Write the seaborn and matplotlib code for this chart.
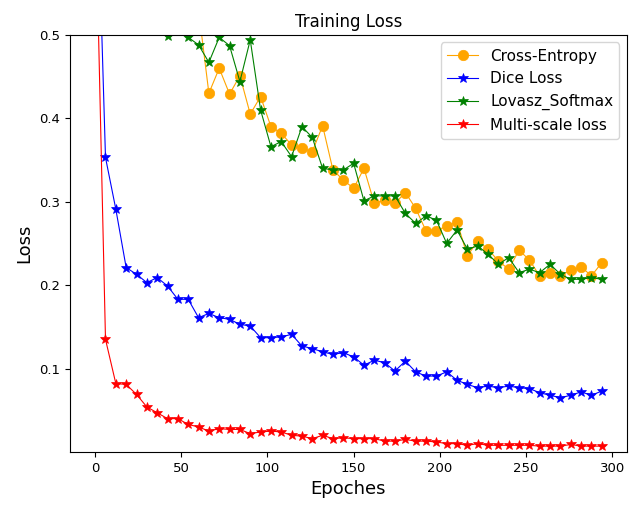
import numpy as np
import pandas as pd
import matplotlib
matplotlib.use("Agg")
import matplotlib.pyplot as plt
import seaborn as sns

# epochs sampled every 6 steps
epochs = list(range(0, 300, 6))

cross_entropy = [1.30, 0.98, 0.85, 0.77, 0.71, 0.66, 0.62, 0.60, 0.57, 0.56,
                 0.53, 0.430, 0.460, 0.429, 0.451, 0.405, 0.426, 0.390, 0.382, 0.368,
                 0.364, 0.360, 0.391, 0.338, 0.326, 0.316, 0.340, 0.298, 0.302, 0.298,
                 0.311, 0.292, 0.265, 0.265, 0.271, 0.276, 0.235, 0.253, 0.243, 0.229,
                 0.219, 0.242, 0.230, 0.211, 0.215, 0.211, 0.218, 0.222, 0.211, 0.227]

dice_loss = [0.77, 0.353, 0.291, 0.221, 0.213, 0.203, 0.209, 0.199, 0.183, 0.183,
             0.161, 0.166, 0.161, 0.159, 0.153, 0.151, 0.137, 0.137, 0.138, 0.141,
             0.127, 0.124, 0.120, 0.117, 0.119, 0.114, 0.104, 0.110, 0.107, 0.097,
             0.109, 0.096, 0.091, 0.091, 0.096, 0.086, 0.081, 0.077, 0.079, 0.077,
             0.079, 0.077, 0.076, 0.071, 0.068, 0.065, 0.068, 0.072, 0.068, 0.073]

lovasz = [1.20, 0.90, 0.78, 0.69, 0.62, 0.57, 0.53, 0.499, 0.515, 0.497,
          0.488, 0.467, 0.497, 0.487, 0.444, 0.494, 0.410, 0.366, 0.372, 0.354,
          0.390, 0.377, 0.340, 0.338, 0.338, 0.346, 0.301, 0.307, 0.307, 0.307,
          0.286, 0.274, 0.283, 0.278, 0.250, 0.266, 0.243, 0.247, 0.237, 0.225,
          0.233, 0.215, 0.219, 0.215, 0.225, 0.213, 0.207, 0.207, 0.209, 0.207]

multi_scale = [0.68, 0.135, 0.082, 0.081, 0.069, 0.054, 0.047, 0.040, 0.040, 0.033,
               0.030, 0.025, 0.028, 0.027, 0.027, 0.022, 0.024, 0.025, 0.024, 0.020,
               0.019, 0.016, 0.020, 0.016, 0.017, 0.016, 0.016, 0.016, 0.013, 0.013,
               0.015, 0.013, 0.013, 0.012, 0.010, 0.010, 0.008, 0.010, 0.008, 0.008,
               0.008, 0.008, 0.008, 0.007, 0.007, 0.007, 0.009, 0.007, 0.007, 0.007]

series = [
    ("Cross-Entropy", cross_entropy, "orange", "o", 7.5),
    ("Dice Loss", dice_loss, "blue", "*", 7.5),
    ("Lovasz_Softmax", lovasz, "green", "*", 7.5),
    ("Multi-scale loss", multi_scale, "red", "*", 7.5),
]

fig, ax = plt.subplots(figsize=(6.29, 5.05), dpi=100)
fig.subplots_adjust(left=0.111, right=0.997, bottom=0.105, top=0.931)

for name, vals, col, mk, ms in series:
    sns.lineplot(x=epochs, y=vals, ax=ax, color=col, marker=mk, markersize=ms,
                 markeredgecolor=col, markeredgewidth=0.5, linewidth=0.8,
                 label=name)

ax.set_ylim(0.0, 0.5)
ax.set_yticks([0.1, 0.2, 0.3, 0.4, 0.5])
ax.tick_params(labelsize=9.5)
ax.set_title("Training Loss", fontsize=12)
ax.set_xlabel("Epoches", fontsize=13)
ax.set_ylabel("Loss", fontsize=13)
ax.legend(loc="upper right", fontsize=11)

plt.savefig("out.png", dpi=100)
plt.close()
